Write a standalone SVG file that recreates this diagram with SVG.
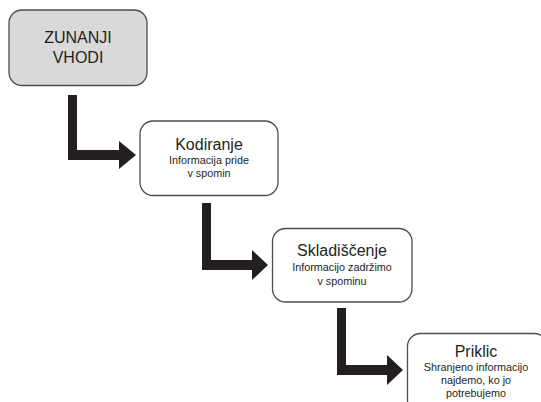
<svg xmlns="http://www.w3.org/2000/svg" width="541" height="402" viewBox="0 0 541 402">
<style>
.box{fill:#fff;stroke:#4d4d4d;stroke-width:1.3}
.gray{fill:#d9d9d9}
.t{font-family:"Liberation Sans",Arial,sans-serif;fill:#231f20;text-anchor:middle}
.h{font-size:16px}
.s{font-size:10.8px}
.arr{fill:#231f20}
</style>
<rect width="541" height="402" fill="#fff"/>
<g id="connectors">
<path class="arr" d="M68,95 H77 V150 H119 V141 L136,155 L119,169 V160 H68 Z"/>
<path class="arr" d="M202,203 H211 V260 H252 V250 L268,265 L252,280 V270 H202 Z"/>
<path class="arr" d="M337,308 H346 V365 H387 V355 L403,370 L387,385 V375 H337 Z"/>
</g>
<g id="zunanji">
<rect class="box gray" x="9" y="10" width="138" height="75.5" rx="13"/>
<text class="t h" x="78" y="43">ZUNANJI</text>
<text class="t h" x="78" y="63">VHODI</text>
</g>
<g id="kodiranje">
<rect class="box" x="140" y="121" width="138" height="74.5" rx="13"/>
<text class="t h" x="209" y="150">Kodiranje</text>
<text class="t s" x="209" y="164">Informacija pride</text>
<text class="t s" x="209" y="177">v spomin</text>
</g>
<g id="skladiscenje">
<rect class="box" x="272.5" y="228.5" width="139.5" height="73.5" rx="13"/>
<text class="t h" x="342" y="256">Skladiščenje</text>
<text class="t s" x="342" y="271">Informacijo zadržimo</text>
<text class="t s" x="342" y="285">v spominu</text>
</g>
<g id="priklic">
<rect class="box" x="407.5" y="333.5" width="140" height="80" rx="13"/>
<text class="t h" x="476" y="357">Priklic</text>
<text class="t s" x="476" y="371">Shranjeno informacijo</text>
<text class="t s" x="476" y="384">najdemo, ko jo</text>
<text class="t s" x="476" y="397">potrebujemo</text>
</g>
</svg>
